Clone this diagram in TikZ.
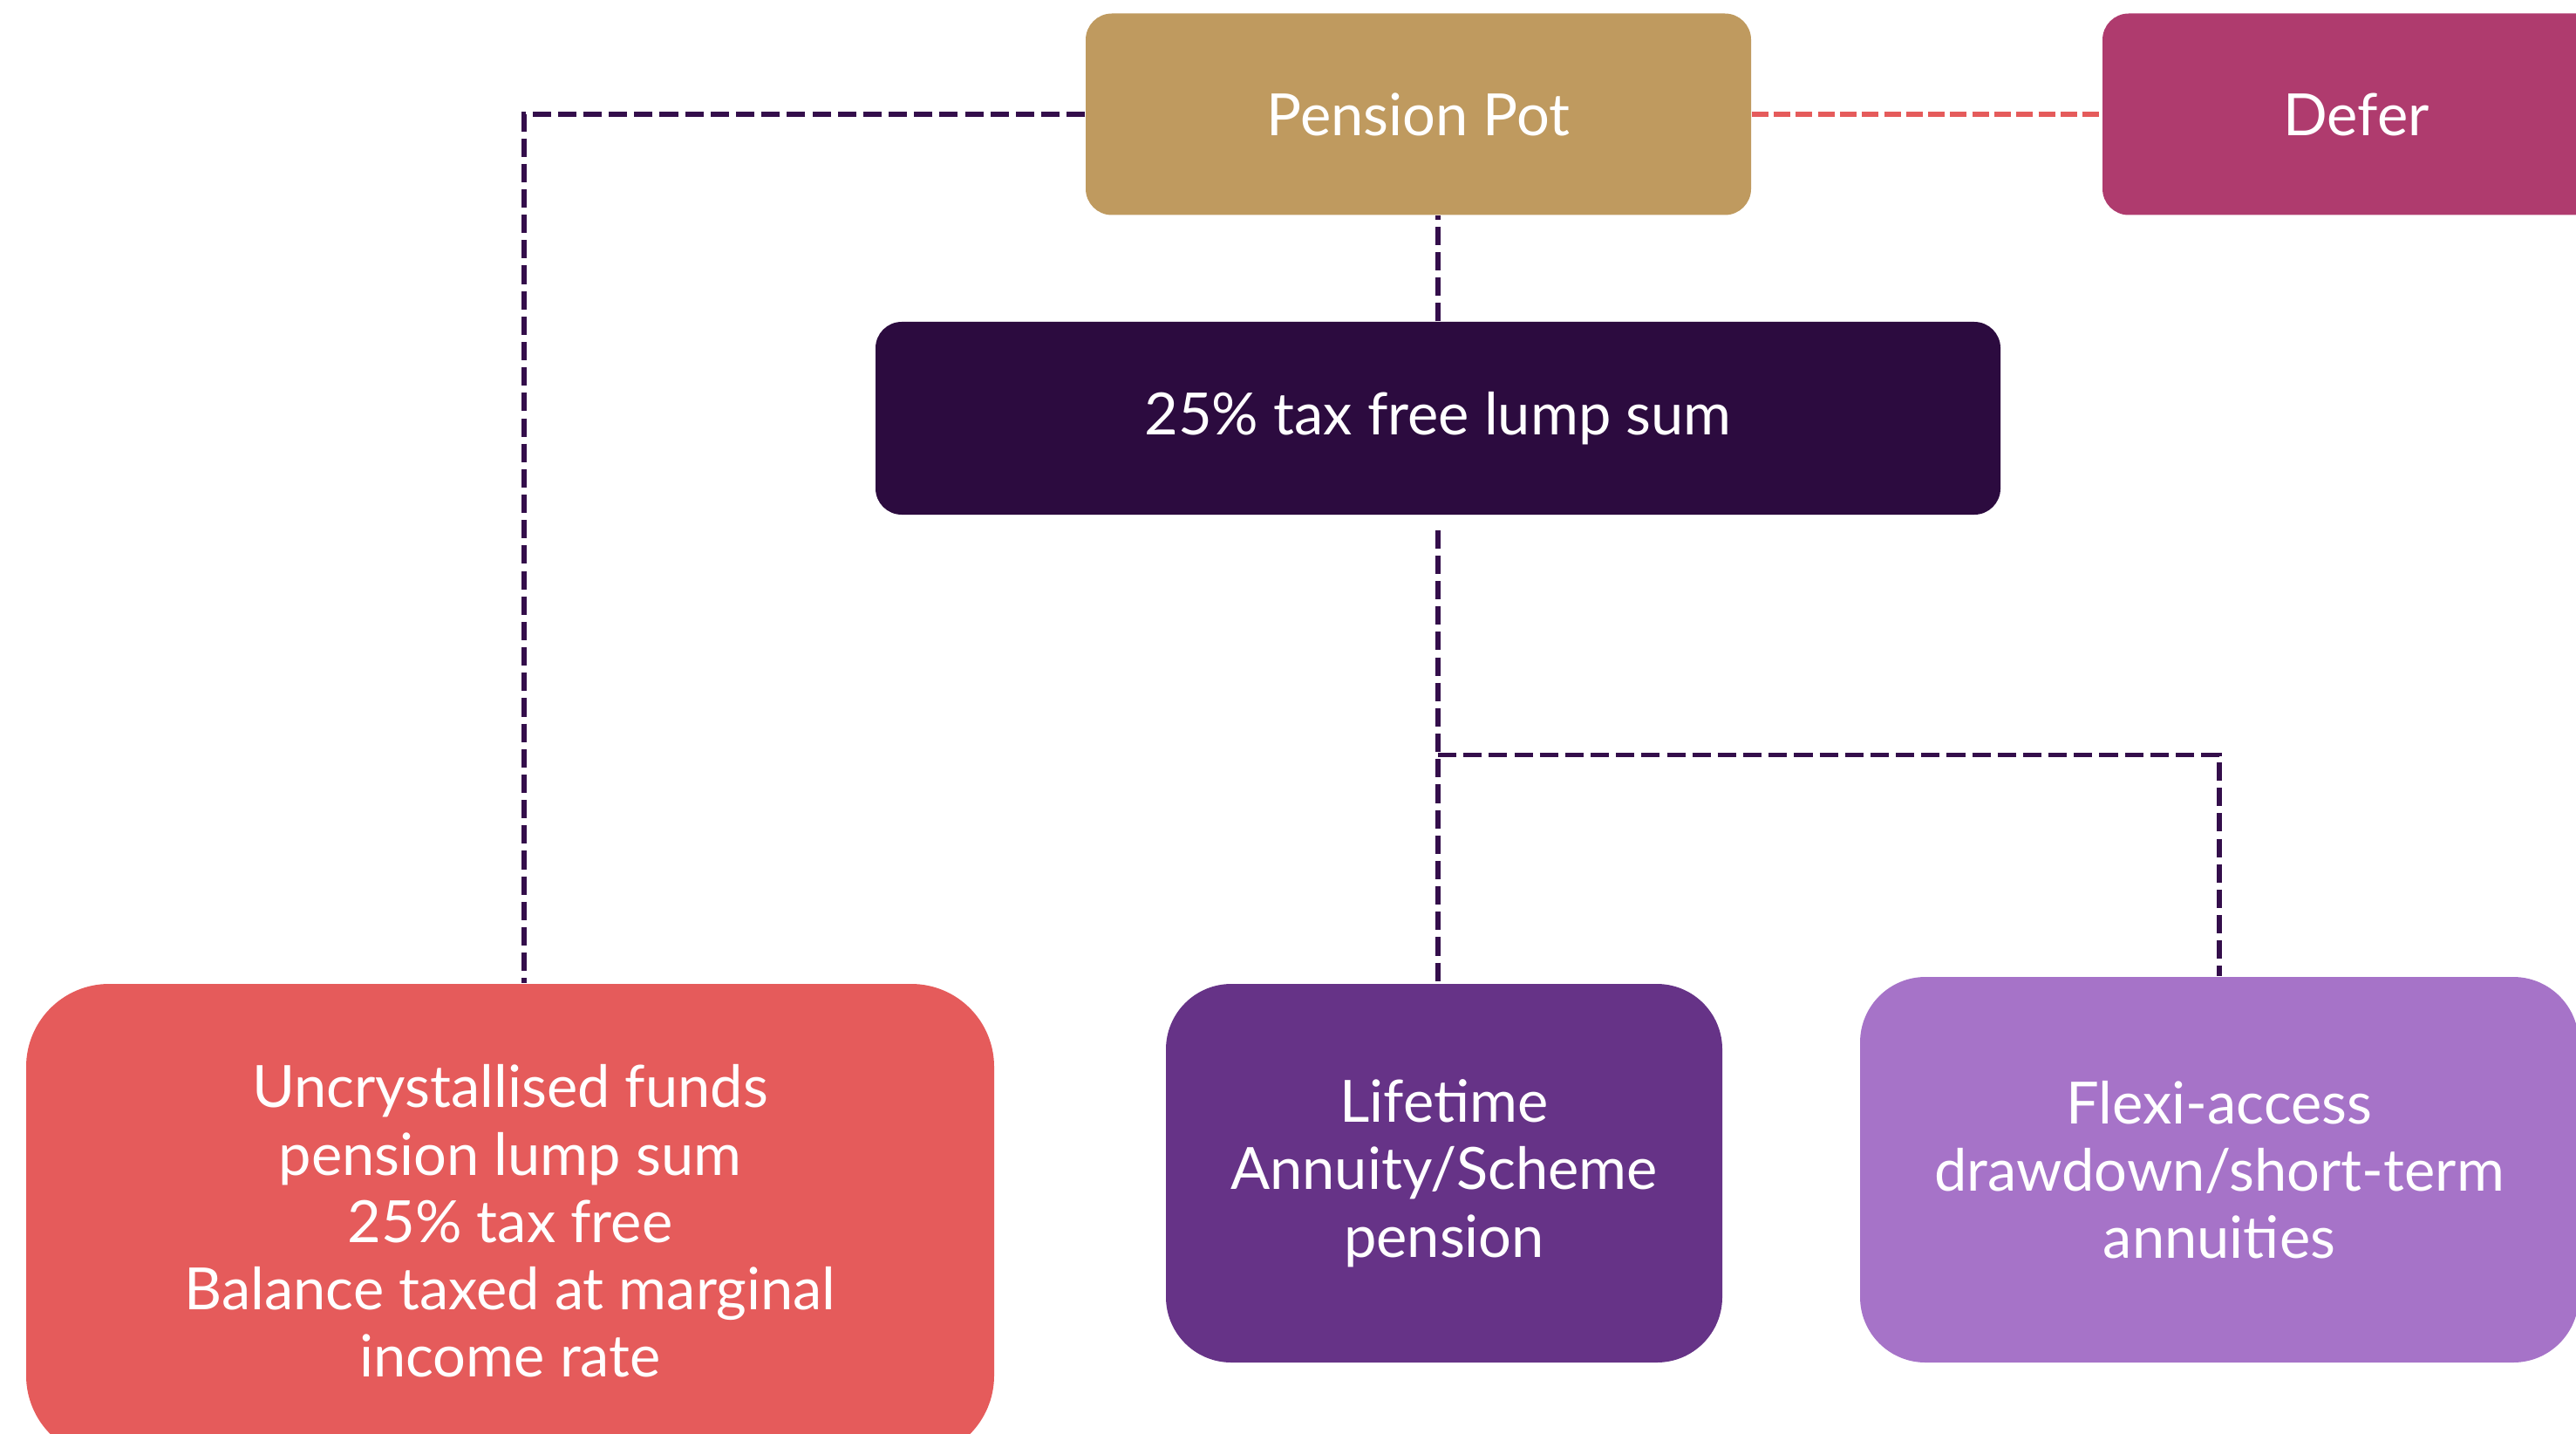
\documentclass[tikz,border=0pt]{standalone}
\usepackage{fontspec}
\setmainfont{Lato}
\usetikzlibrary{positioning}
\definecolor{PotColor}{RGB}{191,154,95}
\definecolor{DeferColor}{RGB}{175,59,110}
\definecolor{LumpColor}{RGB}{44,11,63}
\definecolor{UfplsColor}{RGB}{229,91,91}
\definecolor{AnnuityColor}{RGB}{102,51,135}
\definecolor{FlexiColor}{RGB}{166,115,200}
\definecolor{LinkColor}{RGB}{52,14,75}

\begin{document}
\begin{tikzpicture}[
        box/.style={fill=#1, text=white, align=center, inner sep=0pt,
            font=\fontsize{19}{22}\selectfont},
        link/.style={LinkColor, line width=1.5pt, dash pattern=on 6pt off 2.3pt},
        redlink/.style={UfplsColor, line width=1.7pt, dash pattern=on 5.4pt off 1.8pt}
    ]
        \useasboundingbox (0,0) rectangle (29.54,-16.43);

        \node[box=PotColor, rounded corners=0.3cm, minimum width=7.63cm, minimum height=2.31cm] (pot) at (16.265,-1.31) {Pension Pot};
        \node[box=DeferColor, rounded corners=0.3cm, minimum width=5.82cm, minimum height=2.31cm] (defer) at (27.02,-1.31) {Defer};
        \node[box=LumpColor, rounded corners=0.3cm, minimum width=12.9cm, minimum height=2.21cm] (lump) at (16.49,-4.795) {25\% tax free lump sum};

        \node[box=UfplsColor, rounded corners=0.95cm, minimum width=11.1cm, minimum height=5.44cm] (ufpls) at (5.85,-14.0) {Uncrystallised funds\\pension lump sum\\25\% tax free\\Balance taxed at marginal\\income rate};
        \node[box=AnnuityColor, rounded corners=0.75cm, minimum width=6.38cm, minimum height=4.34cm] (annuity) at (16.56,-13.45) {Lifetime\\Annuity/Scheme\\pension};
        \node[box=FlexiColor, rounded corners=0.75cm, minimum width=8.24cm, minimum height=4.42cm] (flexi) at (25.45,-13.41) {Flexi-access\\drawdown/short-term\\annuities};

        % connectors
        \draw[redlink] (pot.east) -- (defer.west);
        \draw[link] (pot.west) -| ([xshift=0.16cm]ufpls.north);
        \draw[link] (lump.north) -- (lump.north |- pot.south);
        \coordinate (branch) at ([yshift=-2.75cm]lump.south);
        \draw[link] ([yshift=-0.17cm]lump.south) -- (lump.south |- annuity.north);
        \draw[link] (branch) -| (flexi.north);
    \end{tikzpicture}
\end{document}
